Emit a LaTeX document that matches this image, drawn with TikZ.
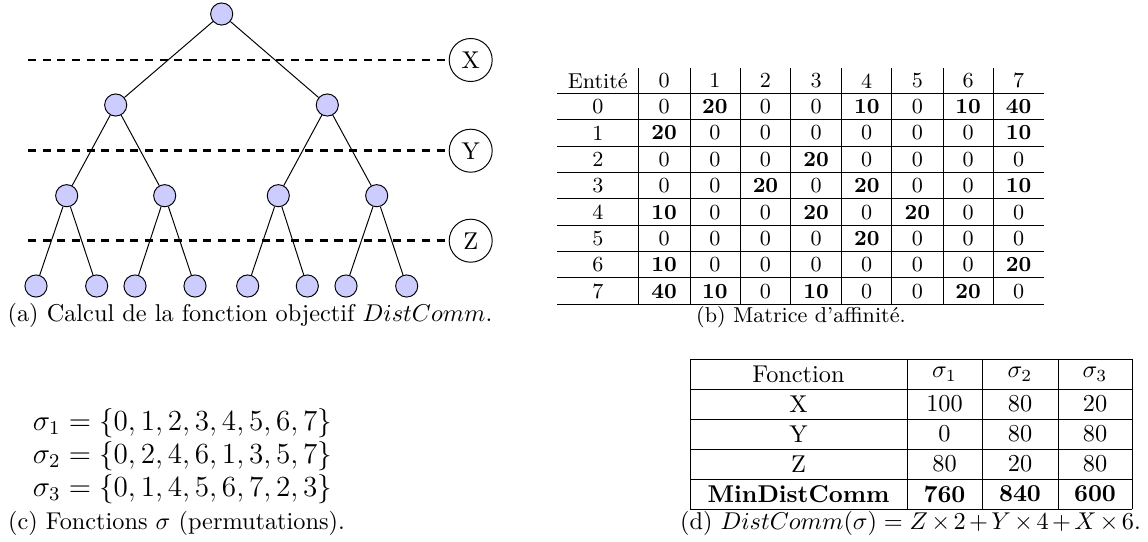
\documentclass[tikz,border=0pt]{standalone}
\tikzset{
  tnode/.style={circle, draw, line width=0.4pt, fill=blue!20, minimum size=9.1pt, inner sep=0pt},
  lvl/.style={circle, draw, line width=0.4pt, minimum size=17.7pt, inner sep=0pt},
  tedge/.style={line width=0.4pt},
  dashline/.style={line width=1.2pt, dash pattern=on 3.3pt off 2.7pt},
  rulel/.style={line width=0.4pt},
  mcell/.style={inner sep=0pt, font=\fontsize{8.85}{10.6}\selectfont},
  dcell/.style={inner sep=0pt},
  captxt/.style={inner sep=0pt},
}
\begin{document}
\begin{tikzpicture}[x=0.4115pt, y=-0.4115pt]
\useasboundingbox (0,0) rectangle (1148,542);
% ---------- (a) tree ----------
\node[tnode] (r) at (221.7,14) {};
\node[tnode] (a1) at (115.7,105) {};
\node[tnode] (a2) at (327.3,105) {};
\node[tnode] (b1) at (66.7,195.7) {};
\node[tnode] (b2) at (164.7,195.7) {};
\node[tnode] (b3) at (278.3,195.7) {};
\node[tnode] (b4) at (376.7,195.7) {};
\foreach \x [count=\i] in {36,96.7,135,195,247.7,307.3,346,406.7}
  \node[tnode] (l\i) at (\x,286) {};
\draw[tedge] (r) -- (a1);
\draw[tedge] (r) -- (a2);
\draw[tedge] (a1) -- (b1);
\draw[tedge] (a1) -- (b2);
\draw[tedge] (a2) -- (b3);
\draw[tedge] (a2) -- (b4);
\draw[tedge] (b1) -- (l1);
\draw[tedge] (b1) -- (l2);
\draw[tedge] (b2) -- (l3);
\draw[tedge] (b2) -- (l4);
\draw[tedge] (b3) -- (l5);
\draw[tedge] (b3) -- (l6);
\draw[tedge] (b4) -- (l7);
\draw[tedge] (b4) -- (l8);
\foreach \n/\y in {X/60,Y/150.7,Z/240.7}{
  \node[lvl] (\n) at (470.7,\y) {\n};
  \coordinate (d\n) at (28.3,\y);
  \draw[dashline] (d\n) -- (\n);
}
\node[captxt] (capa) at (250,315) {(a) Calcul de la fonction objectif $DistComm$.};
% ---------- (b) matrix ----------
\node[mcell] (mh0) at (597.8,80.8) {Entité};
\foreach \c in {0,...,7}
  \node[mcell] (mh\c c) at ({664.2+50.64*\c},80.8) {\c};
\foreach \row [count=\r from 0] in {{0,20,0,0,10,0,10,40},{20,0,0,0,0,0,0,10},{0,0,0,20,0,0,0,0},{0,0,20,0,20,0,0,10},{10,0,0,20,0,20,0,0},{0,0,0,0,20,0,0,0},{10,0,0,0,0,0,0,20},{40,10,0,10,0,0,20,0}}{
  \node[mcell] (mr\r) at (597.8,{106.7+26.37*\r}) {\r};
  \foreach \v [count=\c from 0] in \row
    \node[mcell] (m\r-\c) at ({664.2+50.64*\c},{106.7+26.37*\r}) {\ifnum\v=0 \v\else\textbf{\v}\fi};
}
\foreach \x in {638.3,690,740,790.7,841.7,891.7,943.3,993.3}
  \draw[rulel] (\x,68.3) -- (\x,304.3);
\foreach \k in {0,...,8}
  \draw[rulel] (557.3,{93.3+26.37*\k}) -- (1044,{93.3+26.37*\k});
\node[mcell] (capb) at (801,316.7) {(b) Matrice d'affinité.};
% ---------- (c) permutations ----------
\node[captxt, font=\large] (s1) at (182.5,423) {$\sigma_1=\{0,1,2,3,4,5,6,7\}$};
\node[captxt, font=\large] (s2) at (182.5,456) {$\sigma_2=\{0,2,4,6,1,3,5,7\}$};
\node[captxt, font=\large] (s3) at (182.5,489) {$\sigma_3=\{0,1,4,5,6,7,2,3\}$};
\node[captxt] (capc) at (176.5,523) {(c) Fonctions $\sigma$ (permutations).};
% ---------- (d) table ----------
\node[dcell] (dh0) at (798.5,374) {Fonction};
\node[dcell] (dh1) at (944.5,374) {$\sigma_1$};
\node[dcell] (dh2) at (1020,374) {$\sigma_2$};
\node[dcell] (dh3) at (1095,374) {$\sigma_3$};
\foreach \lab/\p/\q/\s [count=\r] in {X/100/80/20,Y/0/80/80,Z/80/20/80}{
  \node[dcell] (dl\r) at (798.5,{374+30*\r}) {\lab};
  \node[dcell] (dp\r) at (944.5,{374+30*\r}) {\p};
  \node[dcell] (dq\r) at (1020,{374+30*\r}) {\q};
  \node[dcell] (ds\r) at (1095,{374+30*\r}) {\s};
}
\node[dcell] (dl4) at (798.5,494) {\textbf{MinDistComm}};
\node[dcell] (dp4) at (944.5,494) {\textbf{760}};
\node[dcell] (dq4) at (1020,494) {\textbf{840}};
\node[dcell] (ds4) at (1095,494) {\textbf{600}};
\foreach \y in {359,389,419,449,479,509}
  \draw[rulel] (690,\y) -- (1132,\y);
\foreach \x in {690,907,982,1058,1132}
  \draw[rulel] (\x,359) -- (\x,509);
\node[captxt] (capd) at (910.5,523) {\medmuskip=2.5mu (d) $DistComm(\sigma)=Z\times 2+Y\times 4+X\times 6$.};
\end{tikzpicture}
\end{document}
